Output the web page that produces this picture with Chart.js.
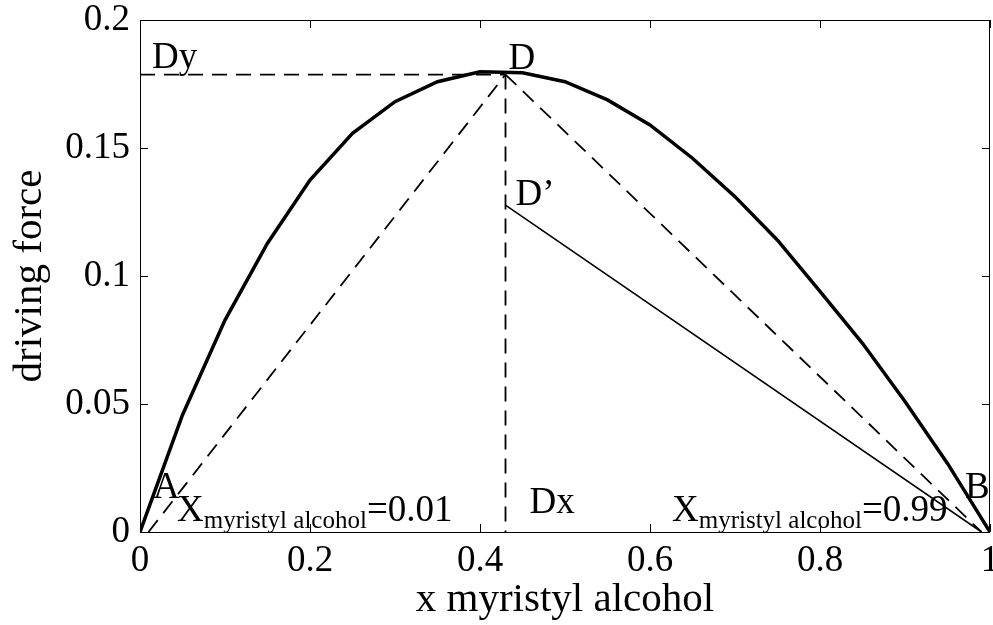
<!DOCTYPE html>
<html>
<head>
<meta charset="utf-8">
<title>driving force</title>
<script src="https://cdn.jsdelivr.net/npm/chart.js@4.4.0/dist/chart.umd.min.js"></script>
<style>
  html, body { margin: 0; padding: 0; background: #fff; }
  #chart { display: block; }
</style>
</head>
<body>
<canvas id="chart" width="993" height="625"></canvas>
<script>
// driving force curve, sampled every 0.05 in mole fraction
const curveX = [0, 0.05, 0.1, 0.15, 0.2, 0.25, 0.3, 0.35, 0.4, 0.45, 0.5,
                0.55, 0.6, 0.65, 0.7, 0.75, 0.8, 0.85, 0.9, 0.95, 1];
const curveY = [0, 0.0457, 0.0828, 0.1128, 0.1375, 0.1557, 0.1681, 0.1759, 0.1798, 0.1794, 0.1759,
                0.1688, 0.159, 0.146, 0.131, 0.114, 0.094, 0.0737, 0.051, 0.0268, 0];

// construction points
const xA = 0.01;        // A
const xB = 0.99;        // B
const dX = 0.43;        // D (and Dx)
const dY = 0.1787;      // D (and Dy)
const dPrimeY = 0.1277; // D'

const xTicks = [0, 0.2, 0.4, 0.6, 0.8, 1];
const xTickLabels = ['0', '0.2', '0.4', '0.6', '0.8', '1'];
const yTicks = [0, 0.05, 0.1, 0.15, 0.2];
const yTickLabels = ['0', '0.05', '0.1', '0.15', '0.2'];

const serif = '"Liberation Serif", "Times New Roman", serif';

const pts = (xs, ys) => xs.map((x, i) => ({ x: x, y: ys[i] }));

const dashed = {
  showLine: true, pointRadius: 0, borderColor: '#000',
  borderWidth: 1.8, borderDash: [15, 9], fill: false
};

// frame, inward ticks on all four sides, and the text annotations
const framePlugin = {
  id: 'frame',
  afterDraw(chart) {
    const { ctx, chartArea: a, scales } = chart;
    const sx = scales.x, sy = scales.y;
    ctx.save();
    ctx.strokeStyle = '#000';
    ctx.lineWidth = 1;
    ctx.strokeRect(a.left + 0.5, a.top + 0.5, a.right - a.left - 1, a.bottom - a.top);
    const tl = 8;
    ctx.beginPath();
    xTicks.forEach(v => {
      const px = Math.round(sx.getPixelForValue(v)) + 0.5;
      ctx.moveTo(px, a.bottom); ctx.lineTo(px, a.bottom - tl);
      ctx.moveTo(px, a.top); ctx.lineTo(px, a.top + tl);
    });
    yTicks.forEach(v => {
      const py = Math.round(sy.getPixelForValue(v)) + 0.5;
      ctx.moveTo(a.left, py); ctx.lineTo(a.left + tl, py);
      ctx.moveTo(a.right, py); ctx.lineTo(a.right - tl, py);
    });
    ctx.stroke();

    ctx.fillStyle = '#000';
    ctx.textBaseline = 'alphabetic';
    ctx.textAlign = 'left';
    const big = '37px ' + serif;
    const small = '25px ' + serif;
    const px = v => sx.getPixelForValue(v);
    const py = v => sy.getPixelForValue(v);

    ctx.font = big;
    ctx.fillText('Dy', a.left + 12, py(dY) - 7);
    ctx.fillText('D', px(dX) + 3, py(dY) - 6);
    ctx.fillText('D\u2019', px(dX) + 10, py(dPrimeY));
    ctx.fillText('A', 153, 498);
    ctx.fillText('B', 965, 498);
    ctx.fillText('Dx', px(dX) + 24, 513);

    // X with subscript
    const subLabel = (x0, value) => {
      ctx.font = big;
      ctx.fillText('X', x0, 521);
      let x = x0 + ctx.measureText('X').width;
      ctx.font = small;
      ctx.fillText('myristyl alcohol', x, 528);
      x += ctx.measureText('myristyl alcohol').width;
      ctx.font = big;
      ctx.fillText('=' + value, x, 521);
    };
    subLabel(177, '0.01');
    subLabel(672, '0.99');
    ctx.restore();
  }
};

new Chart(document.getElementById('chart'), {
  type: 'scatter',
  data: {
    datasets: [
      {
        data: pts(curveX, curveY),
        showLine: true, pointRadius: 0, borderColor: '#000',
        borderWidth: 3.5, fill: false
      },
      Object.assign({ data: [{ x: 0, y: dY }, { x: dX, y: dY }] }, dashed),
      Object.assign({ data: [{ x: xA, y: 0 }, { x: dX, y: dY }] }, dashed),
      Object.assign({ data: [{ x: dX, y: dY }, { x: xB, y: 0 }] }, dashed),
      Object.assign({ data: [{ x: dX, y: dY }, { x: dX, y: 0 }] }, dashed),
      {
        data: [{ x: dX, y: dPrimeY }, { x: xB, y: 0 }],
        showLine: true, pointRadius: 0, borderColor: '#000',
        borderWidth: 1.6, fill: false
      }
    ]
  },
  options: {
    responsive: false,
    animation: false,
    layout: { padding: { top: 20, right: 3, left: 0, bottom: 0 } },
    plugins: { legend: { display: false }, tooltip: { enabled: false } },
    scales: {
      x: {
        type: 'linear', min: 0, max: 1,
        afterBuildTicks: s => { s.ticks = xTicks.map(v => ({ value: v })); },
        afterFit: s => { s.height = 93; s.paddingLeft = 0; s.paddingRight = 0; },
        grid: { display: false, drawTicks: false },
        border: { display: false },
        ticks: {
          color: '#000', padding: 7, maxRotation: 0, autoSkip: false,
          font: { family: serif, size: 37 },
          callback: (v, i) => xTickLabels[i]
        },
        title: {
          display: true, text: 'x myristyl alcohol', color: '#000',
          font: { family: serif, size: 41 }, padding: 0
        }
      },
      y: {
        type: 'linear', min: 0, max: 0.2,
        afterBuildTicks: s => { s.ticks = yTicks.map(v => ({ value: v })); },
        afterFit: s => { s.width = 140; s.paddingTop = 0; s.paddingBottom = 0; },
        grid: { display: false, drawTicks: false },
        border: { display: false },
        ticks: {
          color: '#000', padding: 10, autoSkip: false,
          font: { family: serif, size: 37 },
          callback: (v, i) => yTickLabels[i]
        },
        title: {
          display: true, text: 'driving force', color: '#000',
          font: { family: serif, size: 41 }, padding: { top: 6 }
        }
      }
    }
  },
  plugins: [framePlugin]
});
</script>
</body>
</html>
